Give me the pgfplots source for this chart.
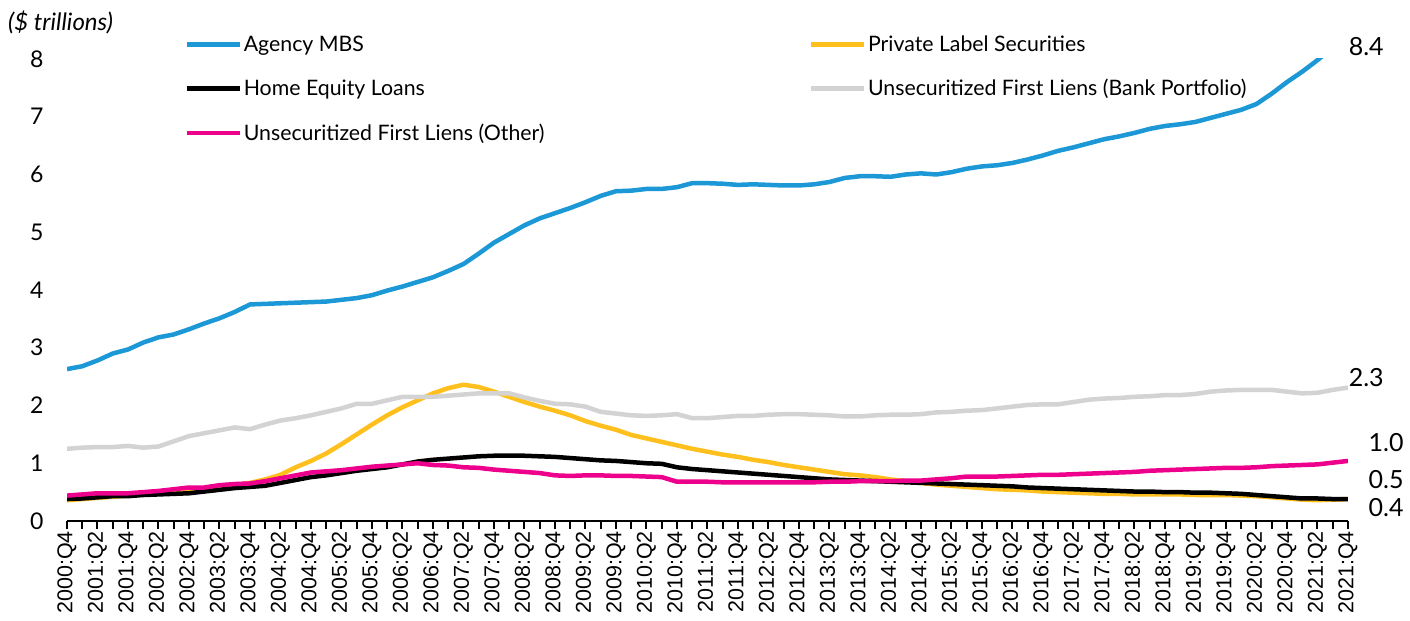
\documentclass[border=0pt]{standalone}
\usepackage{fontspec}
\setmainfont{Lato}
\newfontfamily\arialf{Liberation Sans}
\usepackage{pgfplots}
\usepackage{pgfplotstable}
\pgfplotsset{compat=1.18}
\definecolor{cmbs}{RGB}{27,152,213}
\definecolor{cpls}{RGB}{255,192,30}
\definecolor{cbank}{RGB}{211,211,211}
\definecolor{coth}{RGB}{236,0,140}
\pgfplotstableread{
i mbs pls hel bank oth
0 2.63 0.36 0.38 1.25 0.44
1 2.68 0.38 0.39 1.27 0.46
2 2.78 0.40 0.41 1.28 0.48
3 2.90 0.42 0.43 1.28 0.48
4 2.97 0.44 0.43 1.30 0.48
5 3.09 0.46 0.45 1.27 0.50
6 3.18 0.48 0.46 1.29 0.52
7 3.23 0.50 0.47 1.38 0.55
8 3.32 0.52 0.48 1.47 0.58
9 3.42 0.55 0.51 1.52 0.58
10 3.51 0.58 0.54 1.57 0.62
11 3.62 0.62 0.57 1.62 0.64
12 3.75 0.66 0.59 1.59 0.65
13 3.76 0.72 0.61 1.67 0.69
14 3.77 0.80 0.66 1.74 0.74
15 3.78 0.93 0.71 1.78 0.79
16 3.79 1.04 0.76 1.83 0.84
17 3.80 1.17 0.79 1.89 0.86
18 3.83 1.33 0.83 1.95 0.88
19 3.86 1.50 0.87 2.03 0.91
20 3.91 1.67 0.90 2.03 0.94
21 3.99 1.83 0.93 2.09 0.96
22 4.06 1.97 0.98 2.15 0.98
23 4.14 2.09 1.03 2.15 1.00
24 4.22 2.21 1.06 2.15 0.97
25 4.33 2.30 1.08 2.17 0.96
26 4.45 2.36 1.10 2.19 0.93
27 4.63 2.32 1.12 2.21 0.92
28 4.82 2.24 1.13 2.21 0.89
29 4.97 2.15 1.13 2.21 0.87
30 5.12 2.06 1.13 2.14 0.85
31 5.24 1.98 1.12 2.08 0.83
32 5.33 1.91 1.11 2.03 0.79
33 5.42 1.83 1.09 2.02 0.78
34 5.52 1.73 1.07 1.98 0.79
35 5.63 1.65 1.05 1.89 0.79
36 5.71 1.58 1.04 1.86 0.78
37 5.72 1.49 1.02 1.83 0.78
38 5.75 1.43 1.00 1.82 0.77
39 5.75 1.37 0.99 1.83 0.76
40 5.78 1.31 0.93 1.85 0.68
41 5.85 1.25 0.90 1.78 0.68
42 5.85 1.20 0.88 1.78 0.68
43 5.84 1.15 0.86 1.80 0.67
44 5.82 1.11 0.84 1.82 0.67
45 5.83 1.06 0.82 1.82 0.67
46 5.82 1.02 0.80 1.84 0.67
47 5.81 0.97 0.78 1.85 0.67
48 5.81 0.93 0.76 1.85 0.67
49 5.83 0.89 0.74 1.84 0.67
50 5.87 0.85 0.72 1.83 0.68
51 5.94 0.81 0.71 1.81 0.68
52 5.97 0.79 0.70 1.81 0.69
53 5.97 0.76 0.69 1.83 0.69
54 5.96 0.72 0.68 1.84 0.69
55 6.00 0.69 0.67 1.84 0.70
56 6.02 0.66 0.66 1.85 0.70
57 6.00 0.63 0.65 1.88 0.72
58 6.04 0.61 0.64 1.89 0.74
59 6.10 0.59 0.63 1.91 0.77
60 6.14 0.57 0.62 1.92 0.77
61 6.16 0.55 0.61 1.95 0.77
62 6.20 0.54 0.60 1.98 0.78
63 6.26 0.53 0.58 2.01 0.79
64 6.33 0.51 0.57 2.02 0.80
65 6.41 0.50 0.56 2.02 0.80
66 6.47 0.49 0.55 2.06 0.81
67 6.54 0.48 0.54 2.10 0.82
68 6.61 0.47 0.53 2.12 0.83
69 6.66 0.47 0.52 2.13 0.84
70 6.72 0.46 0.51 2.15 0.85
71 6.79 0.46 0.51 2.16 0.87
72 6.84 0.46 0.50 2.18 0.88
73 6.87 0.46 0.50 2.18 0.89
74 6.91 0.45 0.49 2.20 0.90
75 6.98 0.45 0.49 2.24 0.91
76 7.05 0.45 0.48 2.26 0.92
77 7.12 0.44 0.47 2.27 0.92
78 7.22 0.43 0.45 2.27 0.93
79 7.40 0.41 0.43 2.27 0.95
80 7.60 0.39 0.41 2.24 0.96
81 7.78 0.37 0.39 2.21 0.97
82 7.98 0.36 0.39 2.22 0.98
83 8.20 0.37 0.38 2.27 1.01
84 8.40 0.38 0.38 2.31 1.04
}\datatable

\begin{document}
\begin{tikzpicture}[x=1bp,y=1bp]
\useasboundingbox (0,0) rectangle (1410,621);
\node[anchor=west, font=\itshape\fontsize{24bp}{24bp}\selectfont, inner sep=0] at (8,599) {(\$ trillions)};
\begin{axis}[
  at={(67bp,100bp)}, anchor=south west,
  scale only axis, width=1281bp, height=462bp,
  xmin=0, xmax=84, ymin=0, ymax=8,
  xtick={0,2,...,84}, minor xtick={1,3,...,83},
  xticklabels={2000:Q4,2001:Q2,2001:Q4,2002:Q2,2002:Q4,2003:Q2,2003:Q4,2004:Q2,2004:Q4,2005:Q2,2005:Q4,2006:Q2,2006:Q4,2007:Q2,2007:Q4,2008:Q2,2008:Q4,2009:Q2,2009:Q4,2010:Q2,2010:Q4,2011:Q2,2011:Q4,2012:Q2,2012:Q4,2013:Q2,2013:Q4,2014:Q2,2014:Q4,2015:Q2,2015:Q4,2016:Q2,2016:Q4,2017:Q2,2017:Q4,2018:Q2,2018:Q4,2019:Q2,2019:Q4,2020:Q2,2020:Q4,2021:Q2,2021:Q4},
  xticklabel style={rotate=90, anchor=east, font=\arialf\fontsize{21.5bp}{21.5bp}\selectfont, inner sep=2bp},
  ytick={0,1,...,8},
  yticklabel style={font=\fontsize{23bp}{23bp}\selectfont, /pgf/number format/assume math mode=true, xshift=-12bp},
  axis x line*=bottom, axis y line*=left,
  y axis line style={draw=none},
  ytick style={draw=none},
  xtick style={line width=2bp, black},
  tick align=outside, major tick length=8bp, minor tick length=8bp,
  x axis line style={line width=2.5bp, black},
  clip mode=individual,
  legend columns=2,
  legend image code/.code={\draw[#1] (0bp,0bp) -- (53bp,0bp);},
  legend style={at={(0.0914,1.055)}, anchor=north west, draw=none, fill=none, inner sep=0pt,
    font=\fontsize{21.3bp}{21.3bp}\selectfont, row sep=22.5bp,
    nodes={inner sep=2bp},
    /tikz/every even column/.append style={column sep=262bp}},
  legend cell align=left,
  every axis plot/.append style={line width=4.5bp, line join=round},
]
\addplot[cmbs] table[x=i, y=mbs] {\datatable};
\addlegendentry{Agency MBS}
\addplot[cpls] table[x=i, y=pls] {\datatable};
\addlegendentry{Private Label Securities}
\addplot[black] table[x=i, y=hel] {\datatable};
\addlegendentry{Home Equity Loans}
\addplot[cbank] table[x=i, y=bank] {\datatable};
\addlegendentry{Unsecuritized First Liens (Bank Portfolio)}
\addplot[coth] table[x=i, y=oth] {\datatable};
\addlegendentry{Unsecuritized First Liens (Other)}
\node[font=\fontsize{25bp}{25bp}\selectfont] at (axis cs:85.2,8.21) {8.4};
\node[font=\fontsize{25bp}{25bp}\selectfont] at (axis cs:85.2,2.49) {2.3};
\node[font=\fontsize{25bp}{25bp}\selectfont] at (axis cs:86.5,1.35) {1.0};
\node[font=\fontsize{25bp}{25bp}\selectfont] at (axis cs:86.5,0.71) {0.5};
\node[font=\fontsize{25bp}{25bp}\selectfont] at (axis cs:86.5,0.225) {0.4};
\end{axis}
\end{tikzpicture}
\end{document}
